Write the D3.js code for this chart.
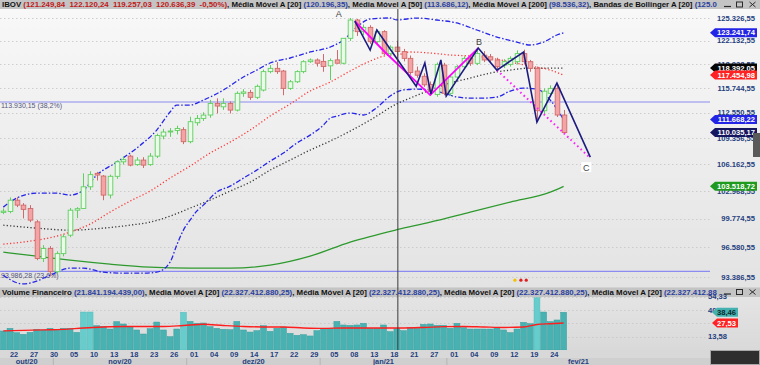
<!DOCTYPE html>
<html><head><meta charset="utf-8">
<script src="https://cdn.jsdelivr.net/npm/d3@7/dist/d3.min.js"></script>
<style>
body{margin:0;background:#d2d2d2}
svg{display:block}
text{font-family:"Liberation Sans",Arial,sans-serif;white-space:pre}
</style></head>
<body><svg id="c" width="760" height="365"></svg>
<script>
// ---------- DATA ----------
const opens  = [100500,100600,101900,101330,100950,99420,95370,96460,93950,95900,97930,100750,100950,103460,105050,104730,102500,104700,106440,107130,106100,106650,106100,107130,109600,110150,110300,110400,108900,111270,111820,112250,113740,113300,113740,112880,115050,115170,114530,115480,117920,118360,118000,115700,116570,117920,119260,119490,119300,118700,119500,119050,122470,125040,123400,124000,122000,123400,120350,121249.84,120636,119710,118000,117300,116200,114900,118800,115050,117200,118580,119710,119040,120150,119930,119490,118800,118900,119260,120360,119260,118360,112800,115050,115700,112250];
const highs  = [100950,102220,102250,101560,101330,99620,96830,96720,96150,98030,101000,101100,105050,105300,105230,104850,104900,106600,107100,107300,107000,107000,107500,109900,110500,110600,110900,110700,112030,112250,112600,114200,114400,114400,114000,115300,115600,115500,116200,118200,118800,119200,118150,116800,118100,119450,119700,119700,120300,119700,120850,122500,125326,125190,124400,124300,123700,123600,121500,122120.24,121000,120100,118600,117700,116600,119150,119100,117500,118800,120000,120200,120900,120700,120300,119800,119600,120000,120800,120900,119500,118600,115700,116100,116200,112900];
const lows   = [100300,100400,101100,99810,99390,95190,94990,93460,93700,95600,97700,99850,100900,103100,104200,101900,102100,104400,106100,105900,105950,105700,105950,106900,109200,109500,109800,108600,108700,110900,111500,111900,112450,112900,112450,112700,114600,114200,114300,115300,117700,117620,114800,115500,116400,117700,119100,118600,117900,116800,119000,118900,122100,122800,122900,121700,121600,120100,119900,119257.03,119300,117500,117100,115900,114800,114600,114800,114700,116900,118300,118700,118800,119200,119200,118100,118400,118600,118900,118900,117900,111700,112300,114600,112000,109900];
const closes = [100640,101900,101330,100840,99620,95370,96460,93950,95900,97750,100750,100920,103460,104900,104850,102490,104700,106440,106700,106040,106650,106040,107130,109660,110100,110230,110550,108900,111400,111820,112240,113740,113400,113740,112880,115050,115230,114530,115970,117920,118360,117920,115700,116570,117920,119260,119490,119050,118600,119400,119050,122470,125040,123400,124000,122000,123400,120350,121240,120636.39,119710,117800,117440,116170,115330,118900,115050,117200,118580,119710,119040,120360,119490,119490,118580,119260,119710,120360,119260,118360,112800,115330,115700,112250,110035.17];
const volumes = [19.4,22.1,17.6,16.0,18.0,21.1,20.4,22.1,21.1,22.1,22.1,18.0,38.7,38.7,24.8,24.1,21.4,28.9,26.5,23.8,20.4,16.3,21.7,28.5,20.4,13.6,21.4,38.4,29.2,27.2,27.5,23.8,22.1,21.1,20.7,29.2,20.4,18.3,19.7,24.8,19.0,22.1,23.4,17.0,15.0,15.6,14.3,19.7,22.1,22.1,29.2,25.5,25.1,25.5,27.2,22.1,22.1,25.5,18.7,21.84,19.7,22.8,22.1,26.2,26.5,25.1,25.1,22.1,27.2,22.8,21.4,21.4,21.4,21.4,22.8,20.4,17.7,21.4,28.2,26.8,53.3,38.7,28.9,30.6,38.46];

// indicator lines, sampled [barIndex, value]
const ma20 = [[0,96940],[4,97270],[8,97820],[10,98270],[13,99170],[16,100530],[19,101790],[22,102960],[25,104490],[28,105920],[31,107500],[34,108850],[37,110350],[40,112120],[43,113660],[46,115350],[49,116530],[52,118000],[55,119350],[58,120170],[59,120196.35],[61,120580],[64,120440],[67,120170],[70,120030],[73,119760],[76,119210],[79,118670],[82,118130],[84,117454.98]];
const ma50 = [[0,99050],[5,98716],[10,98490],[15,98716],[19,99050],[22,99390],[25,100070],[28,100985],[31,101910],[34,102960],[37,104010],[40,105440],[43,106650],[46,107870],[49,108975],[52,110220],[55,111610],[59,113686.12],[61,114430],[64,115480],[67,116400],[70,117065],[73,117730],[76,118130],[79,118400],[82,118400],[84,118392.05]];
const ma200 = [[0,96060],[5,95625],[10,95190],[16,94760],[22,94435],[28,94328],[34,94328],[40,94650],[46,95625],[52,97160],[59,98536.32],[64,99390],[70,100530],[76,101680],[82,102840],[84,103518.72]];
const bbUpper = [[0,101100],[2,102140],[5,102720],[8,102720],[10,102490],[12,103070],[14,104840],[17,106400],[20,108110],[23,110350],[25,112630],[26,113530],[28,113530],[30,114170],[33,115480],[36,117200],[38,118130],[40,119080],[43,119760],[46,120580],[49,121260],[51,122230],[53,124050],[55,125185],[58,125327],[59,125050],[62,125320],[65,125040],[68,124620],[71,123630],[74,122650],[77,121950],[79,121540],[81,121950],[83,122930],[84,123241.74]];
const bbLower = [[0,93580],[3,92650],[5,92945],[7,93580],[10,94328],[12,94328],[15,93900],[18,93794],[21,93794],[23,93900],[25,94970],[26,96830],[27,98490],[28,99620],[29,100640],[30,101330],[32,102840],[34,103540],[36,104490],[38,105440],[40,106520],[42,107500],[44,108730],[46,109720],[48,110980],[49,111860],[50,112110],[52,112500],[54,112250],[56,113200],[58,114700],[60,115500],[62,115600],[64,115480],[66,115086],[68,114570],[70,114430],[72,114430],[74,114570],[76,115350],[78,115742],[80,115610],[82,114170],[84,111668.22]];
const volMA = [[0,19.5],[3,20],[6,20.5],[9,21],[12,22.5],[15,23.5],[18,24],[21,24],[24,24],[27,25],[30,26.2],[33,25],[36,24],[39,23.5],[42,23.5],[45,22.5],[48,22],[51,22.5],[54,22.5],[57,22.5],[60,22.5],[63,23],[66,23.8],[69,24],[72,23.5],[75,23],[78,23.5],[80,26],[82,26.8],[84,27.53]];

// Elliott / Fibonacci annotations
const waveNavy = [[52.7,124900],[55,120850],[56,123630],[61.9,115970],[63.2,119080],[64.1,114950],[65.6,119490],[66.4,114690],[71.2,121125],[74,118130],[78,120580],[80,111350],[83,116400],[88,107010]];
const waveMagenta = [[52.7,124900],[57.2,120580],[64,114825],[71.2,121125]];
const waveMagentaDotted = [[74,118130],[88,106890]];
const waveLabels = [["A",50.3,126040],["B",71.3,121990],["C",87.4,105800]];
const fibLevels = [[113930.15,"113.930,15 (38,2%)"],[93986.28,"93.986,28 (23,6%)"]];
const markerDots = [[76.7,93050,"#f2c200"],[77.6,93050,"#e02020"],[78.4,93050,"#e02020"]];

const priceTicks = [93386.55,96580.55,99774.55,102968.55,106162.55,109356.55,112550.55,115744.55,118938.55,122132.55,125326.55];
const volTicks = [13.58,27.16,40.75,54.33];
const volTickLabels = [13.58,40.75,54.33];
const dayTicks = [[1,"22"],[4,"27"],[7,"30"],[10,"05"],[13,"10"],[16,"13"],[19,"18"],[22,"23"],[25,"26"],[28,"01"],[31,"04"],[34,"09"],[37,"14"],[40,"17"],[43,"22"],[46,"29"],[49,"05"],[52,"08"],[55,"13"],[58,"18"],[61,"21"],[64,"27"],[67,"01"],[70,"04"],[73,"09"],[76,"12"],[79,"19"],[82,"24"]];
const months = [[0,"out/20"],[8,"nov/20"],[28,"dez/20"],[48,"jan/21"],[67,"fev/21"]];
const cursorIndex = 59;

const headerMain = [["IBOV ","#111"],["(121.249,84  122.120,24  119.257,03  120.636,39  -0,50%)","#c01818"],[", Média Móvel A [20] ","#111"],["(120.196,35)","#2a3fa0"],[", Média Móvel A [50] ","#111"],["(113.686,12)","#2a3fa0"],[", Média Móvel A [200] ","#111"],["(98.536,32)","#2a3fa0"],[", Bandas de Bollinger A [20] ","#111"],["(125.0","#2a3fa0"]];
const headerVol = [["Volume Financeiro ","#111"],["(21.841.194.439,00)","#2a3fa0"],[", Média Móvel A [20] ","#111"],["(22.327.412.880,25)","#2a3fa0"],[", Média Móvel A [20] ","#111"],["(22.327.412.880,25)","#2a3fa0"],[", Média Móvel A [20] ","#111"],["(22.327.412.880,25)","#2a3fa0"],[", Média Móvel A [20] ","#111"],["(22.327.412.88","#2a3fa0"]];

// ---------- LAYOUT ----------
const W = 760, plotR = 710;
const mainTop = 9, mainBot = 287, volTop = 297, volBot = 350;
const svg = d3.select("#c");
const loc = d3.formatLocale({decimal:",",thousands:".",grouping:[3],currency:["",""]});
const f2 = loc.format(",.2f");

const x = d3.scaleLinear().domain([0,84]).range([3.3,563.6]);
const y = d3.scaleLog().domain([93386.55,125326.55]).range([277,18]);
const yv = d3.scaleLinear().domain([0,54.33]).range([volBot,296.7]);

const defs = svg.append("defs");
const g1 = defs.append("linearGradient").attr("id","bgMain").attr("x1",0).attr("y1",0).attr("x2",0).attr("y2",1);
g1.append("stop").attr("offset",0).attr("stop-color","#f8f8f8");
g1.append("stop").attr("offset",1).attr("stop-color","#e3e3e3");
const g2 = defs.append("linearGradient").attr("id","bgVol").attr("x1",0).attr("y1",0).attr("x2",0).attr("y2",1);
g2.append("stop").attr("offset",0).attr("stop-color","#e4e4e4");
g2.append("stop").attr("offset",1).attr("stop-color","#d9d9d9");
defs.append("clipPath").attr("id","clipMain").append("rect").attr("x",0).attr("y",mainTop).attr("width",plotR).attr("height",mainBot-mainTop);
defs.append("clipPath").attr("id","clipVol").append("rect").attr("x",0).attr("y",volTop).attr("width",plotR).attr("height",volBot-volTop);

// backgrounds
svg.append("rect").attr("x",0).attr("y",mainTop).attr("width",W).attr("height",mainBot-mainTop).attr("fill","url(#bgMain)");
svg.append("rect").attr("x",0).attr("y",volTop).attr("width",W).attr("height",volBot-volTop).attr("fill","url(#bgVol)");
svg.append("rect").attr("x",0).attr("y",0).attr("width",W).attr("height",mainTop).attr("fill","#c4c4c4");
svg.append("rect").attr("x",0).attr("y",mainBot+1).attr("width",W).attr("height",volTop-mainBot-1).attr("fill","#c4c4c4");
svg.append("rect").attr("x",0).attr("y",volBot).attr("width",W).attr("height",8).attr("fill","#d8d8d8");
svg.append("rect").attr("x",0).attr("y",volBot+8).attr("width",W).attr("height",7).attr("fill","#cfcfcf");

// gridlines
const grid = svg.append("g").attr("stroke","#c4c4c4").attr("stroke-dasharray","1.5,2.5").attr("stroke-width",0.8);
priceTicks.forEach(t=>grid.append("line").attr("x1",0).attr("x2",plotR).attr("y1",Math.round(y(t))+0.5).attr("y2",Math.round(y(t))+0.5));
volTicks.forEach(t=>grid.append("line").attr("x1",0).attr("x2",plotR).attr("y1",Math.round(yv(t))+0.5).attr("y2",Math.round(yv(t))+0.5));

// fib lines
const main = svg.append("g").attr("clip-path","url(#clipMain)");
fibLevels.forEach(([v,lab])=>{
  main.append("line").attr("x1",0).attr("x2",plotR).attr("y1",y(v)).attr("y2",y(v)).attr("stroke","#8b8bf2").attr("stroke-width",1.1);
  main.append("text").attr("x",1).attr("y",y(v)+6.5).attr("font-size",7).attr("fill","#55557a").text(lab);
});

// indicator lines
const line = d3.line().x(d=>x(d[0])).y(d=>y(d[1])).curve(d3.curveMonotoneX);
main.append("path").attr("d",line(ma200)).attr("fill","none").attr("stroke","#2e9a2e").attr("stroke-width",1.3);
main.append("path").attr("d",line(ma50)).attr("fill","none").attr("stroke","#333").attr("stroke-width",1.3).attr("stroke-dasharray","1.2,2.2");
main.append("path").attr("d",line(ma20)).attr("fill","none").attr("stroke","#ff3535").attr("stroke-width",1.3).attr("stroke-dasharray","1.2,2.2");
[bbUpper,bbLower].forEach(s=>main.append("path").attr("d",line(s)).attr("fill","none").attr("stroke","#2626e8").attr("stroke-width",1.3).attr("stroke-dasharray","5,2,1.5,2"));

// candles
const bw = 4.6;
const cg = main.append("g");
closes.forEach((c,i)=>{
  const o = opens[i], up = c >= o;
  const stroke = up ? "#5fcf5f" : "#d06a6a";
  const cx = Math.round(x(i)) + 0.5;
  cg.append("line").attr("x1",cx).attr("x2",cx).attr("y1",y(highs[i])).attr("y2",y(lows[i])).attr("stroke",stroke).attr("stroke-width",1);
  const top = y(Math.max(o,c)), bot = y(Math.min(o,c));
  cg.append("rect").attr("x",cx-bw/2).attr("y",top).attr("width",bw).attr("height",Math.max(1,bot-top))
    .attr("fill", up ? "#eafbea" : "#f4a4a4").attr("stroke",stroke).attr("stroke-width",0.9);
});

// waves
const wl = d3.line().x(d=>x(d[0])).y(d=>y(d[1]));
main.append("path").attr("d",wl(waveMagenta)).attr("fill","none").attr("stroke","#ff00ff").attr("stroke-width",1.8);
main.append("path").attr("d",wl(waveMagentaDotted)).attr("fill","none").attr("stroke","#ff20ff").attr("stroke-width",2).attr("stroke-dasharray","1.6,3");
main.append("path").attr("d",wl(waveNavy)).attr("fill","none").attr("stroke","#1c1c80").attr("stroke-width",1.6);
waveLabels.forEach(([t,k,v])=>{
  if(t==="C") main.append("rect").attr("x",x(k)-5).attr("y",y(v)-5).attr("width",10).attr("height",10).attr("fill","#fff");
  main.append("text").attr("x",x(k)).attr("y",y(v)+3.5).attr("text-anchor","middle").attr("font-size",9).attr("fill","#444").text(t);
});
markerDots.forEach(([k,v,c])=>main.append("circle").attr("cx",x(k)).attr("cy",y(v)).attr("r",1.6).attr("fill",c));

// volume
const vol = svg.append("g").attr("clip-path","url(#clipVol)");
const maAt = k=>{ for(let j=1;j<volMA.length;j++){ if(k<=volMA[j][0]){const a=volMA[j-1],b=volMA[j];return a[1]+(b[1]-a[1])*(k-a[0])/(b[0]-a[0]);} } return volMA[volMA.length-1][1]; };
volumes.forEach((v,i)=>{
  const hi = v > 1.5*maAt(i);
  vol.append("rect").attr("x",x(i)-2.9).attr("y",yv(v)).attr("width",5.9).attr("height",yv(0)-yv(v))
    .attr("fill", hi ? "#66cccc" : "#48b2b2").attr("stroke", hi ? "#55bcbc" : "#3b9e9e").attr("stroke-width",0.5);
});
vol.append("path").attr("d",d3.line().x(d=>x(d[0])).y(d=>yv(d[1])).curve(d3.curveMonotoneX)(volMA)).attr("fill","none").attr("stroke","#ff1e1e").attr("stroke-width",1.4);

// cursor
svg.append("line").attr("x1",x(cursorIndex)+1).attr("x2",x(cursorIndex)+1).attr("y1",mainTop).attr("y2",volBot).attr("stroke","#3a3a3a").attr("stroke-width",1);

// price axis labels
const ax = svg.append("g").attr("font-size",7.6).attr("font-weight","bold").attr("fill","#24407e").attr("text-anchor","end");
priceTicks.forEach(t=>ax.append("text").attr("x",755).attr("y",y(t)+2.7).text(f2(t)));
const vax = svg.append("g").attr("font-size",7.6).attr("font-weight","bold").attr("fill","#24407e").attr("text-anchor","end");
volTickLabels.forEach(t=>vax.append("text").attr("x",727).attr("y",yv(t)+2.7).text(f2(t)));

// tags
function tag(yc, txt, bg, fg, x0, x1){
  svg.append("path").attr("d",`M${x0},${yc}L${x0+5},${yc-4.5}H${x1}V${yc+4.5}H${x0+5}Z`).attr("fill",bg);
  svg.append("text").attr("x",x1-2).attr("y",yc+2.7).attr("text-anchor","end").attr("font-size",7.6).attr("font-weight","bold").attr("fill",fg).text(txt);
}
const last = s=>s[s.length-1][1];
tag(y(last(bbUpper)), f2(last(bbUpper)), "#2424e6", "#fff", 710, 757);
tag(y(last(ma50)), f2(last(ma50)), "#050505", "#fff", 710, 757);
tag(y(last(ma20)), f2(last(ma20)), "#ff2222", "#fff", 710, 757);
tag(y(last(bbLower)), f2(last(bbLower)), "#2424e6", "#fff", 710, 757);
tag(y(closes[closes.length-1]), f2(closes[closes.length-1]), "#161660", "#fff", 710, 757);
tag(y(last(ma200)), f2(last(ma200)), "#1f9a1f", "#fff", 710, 757);
tag(yv(volumes[volumes.length-1]), f2(volumes[volumes.length-1]), "#45b0b0", "#0a2a2a", 712, 738);
tag(yv(last(volMA)), f2(last(volMA)), "#ff2222", "#fff", 712, 738);

// x axis labels
const xa = svg.append("g").attr("font-size",7.4).attr("font-weight","bold").attr("fill","#24407e");
dayTicks.forEach(([k,l])=>xa.append("text").attr("x",x(k)).attr("y",357).text(l));
const step = x(1)-x(0);
months.forEach(([k,l],j)=>{
  const a = j===0 ? 0 : x(k)-step/2;
  const b = j===months.length-1 ? plotR : x(months[j+1][0])-step/2;
  if(j>0) svg.append("line").attr("x1",a).attr("x2",a).attr("y1",volBot+8).attr("y2",365).attr("stroke","#b4b4b4");
  xa.append("text").attr("x",(a+b)/2).attr("y",364).attr("text-anchor","middle").text(l);
});

// header texts
function header(yb, parts, target){
  const t = svg.append("text").attr("x",2).attr("y",yb).attr("font-size",7.5).attr("font-weight","bold");
  parts.forEach(([s,c])=>t.append("tspan").attr("fill",c).text(s));
  const w = t.node().getComputedTextLength();
  t.attr("font-size",7.5*target/w);
}
header(7.3, headerMain, 716);
header(295.2, headerVol, 716);
function buttons(yc){
  const b = svg.append("g").attr("stroke","#2a2a2a").attr("fill","none").attr("stroke-width",1);
  b.append("line").attr("x1",724).attr("x2",731).attr("y1",yc+2).attr("y2",yc+2).attr("stroke-width",1.2);
  b.append("rect").attr("x",736.5).attr("y",yc-2.5).attr("width",6).attr("height",5);
  b.append("line").attr("x1",749.5).attr("x2",755.5).attr("y1",yc-2.5).attr("y2",yc+2.5);
  b.append("line").attr("x1",749.5).attr("x2",755.5).attr("y1",yc+2.5).attr("y2",yc-2.5);
}
buttons(4.5); buttons(292);

// scroll handle and corner box
svg.append("rect").attr("x",753).attr("y",133).attr("width",7).attr("height",24).attr("fill","#5a5a5a");
svg.append("rect").attr("x",710.5).attr("y",350.5).attr("width",49).attr("height",14).attr("fill","#2e2e2e").attr("stroke","#a8a8a8");
</script></body></html>
